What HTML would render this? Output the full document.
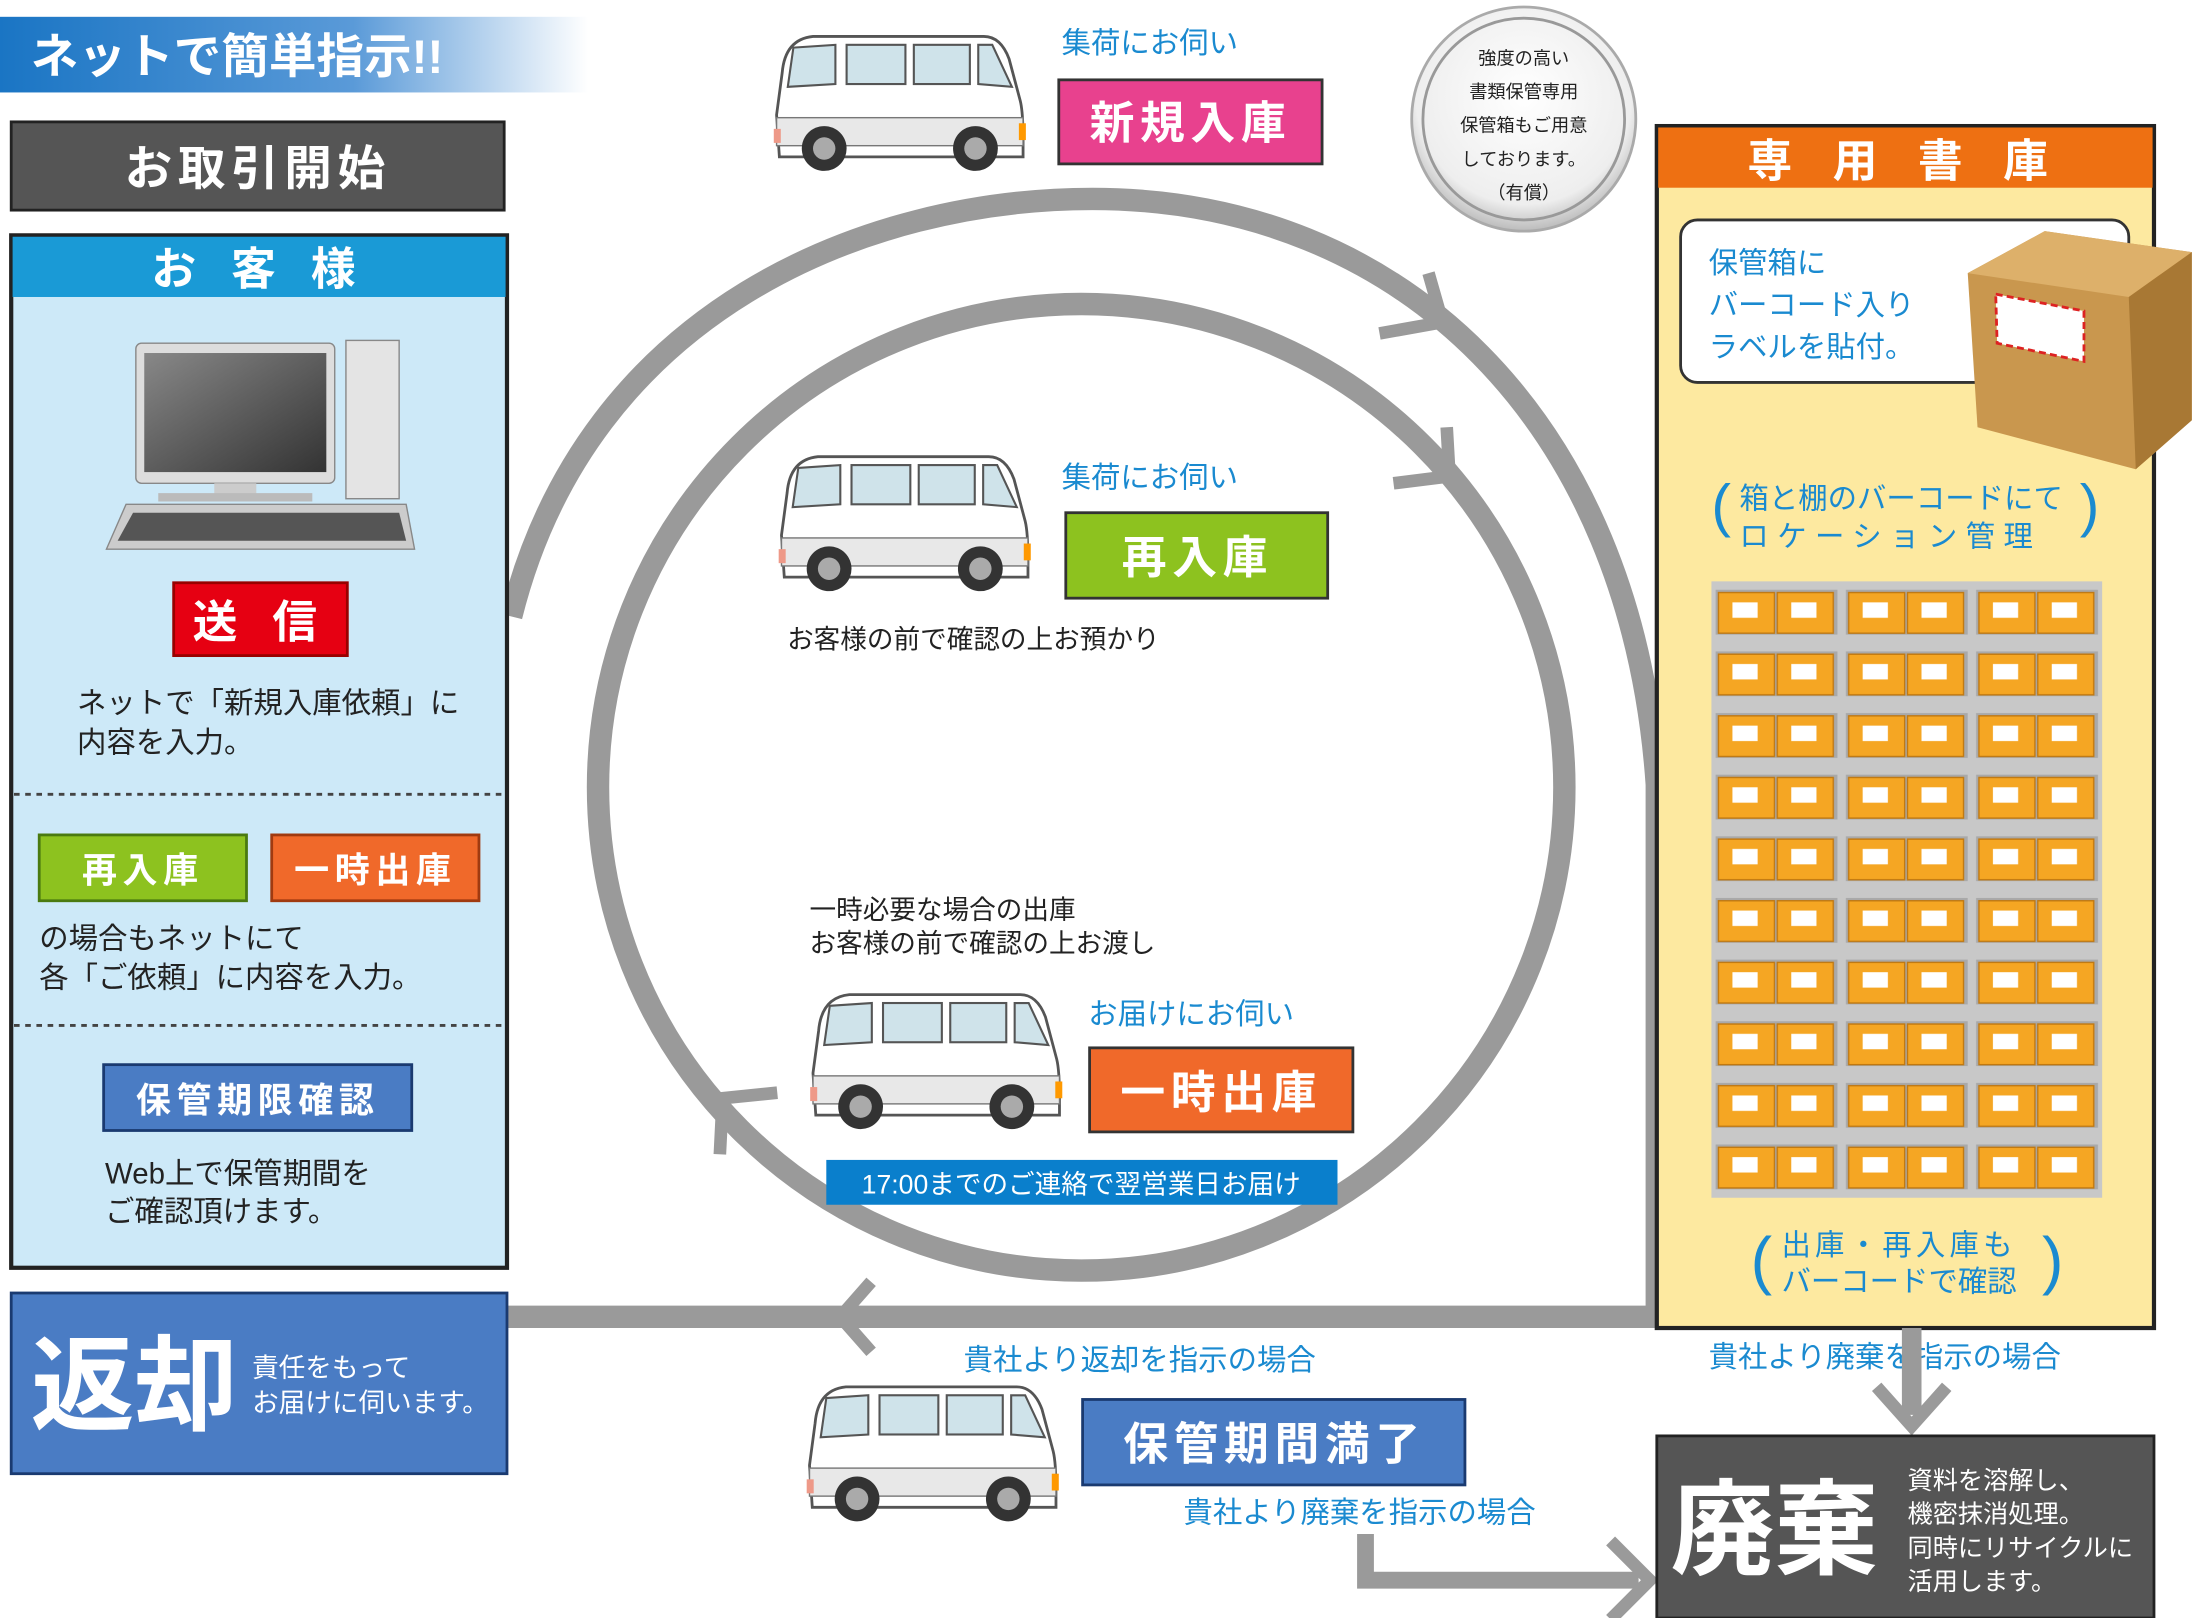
<!DOCTYPE html>
<html><head><meta charset="utf-8"><style>
html,body{margin:0;padding:0;background:#fff;}
svg{display:block;font-family:"Liberation Sans","Noto Sans CJK JP",sans-serif;}
</style></head><body>
<svg width="2196" height="1618" viewBox="0 0 1568 1155" preserveAspectRatio="none" xmlns="http://www.w3.org/2000/svg">
<defs>
<linearGradient id="bn" x1="0" x2="1"><stop offset="0" stop-color="#1a75c4"/><stop offset="0.6" stop-color="#5a9ad8"/><stop offset="1" stop-color="#fff"/></linearGradient>
<radialGradient id="st" cx="0.5" cy="0.4" r="0.6"><stop offset="0" stop-color="#fff"/><stop offset="0.8" stop-color="#eee"/><stop offset="1" stop-color="#bbb"/></radialGradient>
<linearGradient id="scr" x1="0" y1="0" x2="1" y2="1"><stop offset="0" stop-color="#888"/><stop offset="1" stop-color="#333"/></linearGradient>
<symbol id="van" viewBox="0 0 180 104">
<path d="M6 30 Q8 6 28 4 L150 4 Q162 4 168 20 L176 50 Q178 58 178 78 L178 90 L4 90 L2 60 Z" fill="#fff" stroke="#555" stroke-width="2"/>
<path d="M14 12 L44 10 L44 38 L10 40 Z" fill="#cfe3ea" stroke="#555" stroke-width="1.5"/>
<rect x="52" y="10" width="42" height="28" fill="#cfe3ea" stroke="#555" stroke-width="1.5"/>
<rect x="100" y="10" width="40" height="28" fill="#cfe3ea" stroke="#555" stroke-width="1.5"/>
<path d="M146 10 L156 10 L170 40 L146 38 Z" fill="#cfe3ea" stroke="#555" stroke-width="1.5"/>
<rect x="2" y="62" width="176" height="20" fill="#e8e8e8" stroke="#777" stroke-width="1"/>
<rect x="0" y="70" width="5" height="10" fill="#e98"/><rect x="175" y="66" width="5" height="12" fill="#f90"/>
<circle cx="36" cy="84" r="16" fill="#333"/><circle cx="36" cy="84" r="8" fill="#aaa"/>
<circle cx="144" cy="84" r="16" fill="#333"/><circle cx="144" cy="84" r="8" fill="#aaa"/>
</symbol>
<pattern id="shelf" x="1222" y="415" width="93" height="44" patternUnits="userSpaceOnUse">
<rect width="93" height="44" fill="#c8c8c8"/>
<rect x="3" y="6" width="87" height="32" fill="#a9a9a9"/>
<rect x="5" y="8" width="40" height="29" fill="#f5a623" stroke="#c07810"/>
<rect x="47" y="8" width="40" height="29" fill="#f5a623" stroke="#c07810"/>
<rect x="15" y="15" width="18" height="11" fill="#fff"/><rect x="57" y="15" width="18" height="11" fill="#fff"/>
</pattern>
</defs>

<!-- circles -->
<path d="M365 440 C420 220 620 142 780 142 C1000 142 1165 300 1183 560 L1183 940" fill="none" stroke="#9a9a9a" stroke-width="16"/>
<line x1="362" y1="940" x2="1190" y2="940" stroke="#9a9a9a" stroke-width="16"/>
<circle cx="772" cy="562" r="345" fill="none" stroke="#9a9a9a" stroke-width="16"/>
<path d="M985 238 L1030 230 L1020 195" fill="none" stroke="#9a9a9a" stroke-width="9"/>
<path d="M995 345 L1035 340 L1033 305" fill="none" stroke="#9a9a9a" stroke-width="9"/>
<path d="M514 824 L516 784 L555 780" fill="none" stroke="#9a9a9a" stroke-width="9"/>
<path d="M622 915 L600 940 L622 965" fill="none" stroke="#9a9a9a" stroke-width="9"/>

<!-- top banner -->
<rect x="0" y="12" width="420" height="54" fill="url(#bn)"/>
<text x="22" y="52" font-size="34" font-weight="bold" fill="#fff">ネットで簡単指示!!</text>
<rect x="8" y="87" width="352" height="63" fill="#555" stroke="#222" stroke-width="2"/>
<text x="184" y="132" font-size="34" font-weight="bold" fill="#fff" text-anchor="middle" letter-spacing="4">お取引開始</text>

<!-- customer panel -->
<rect x="8" y="168" width="354" height="737" fill="#cde9f8" stroke="#222" stroke-width="3"/>
<rect x="9" y="169" width="352" height="43" fill="#1a9ad6"/>
<text x="185" y="203" font-size="32" font-weight="bold" fill="#fff" text-anchor="middle" letter-spacing="8">お 客 様</text>
<rect x="97" y="245" width="142" height="100" rx="4" fill="#ddd" stroke="#888"/>
<rect x="103" y="252" width="130" height="85" fill="url(#scr)"/>
<rect x="153" y="345" width="30" height="10" fill="#ccc"/>
<rect x="113" y="352" width="110" height="6" fill="#bbb"/>
<rect x="247" y="243" width="38" height="113" fill="#e4e4e4" stroke="#888"/>
<path d="M90 360 L290 360 L296 392 L76 392 Z" fill="#ccc" stroke="#888"/>
<path d="M95 366 L285 366 L290 386 L84 386 Z" fill="#555"/>
<rect x="124" y="416" width="124" height="52" fill="#e60012" stroke="#900" stroke-width="2"/>
<text x="186" y="455" font-size="32" font-weight="bold" fill="#fff" text-anchor="middle" letter-spacing="8">送 信</text>
<text x="55" y="509" font-size="21" fill="#222">ネットで「新規入庫依頼」に</text>
<text x="55" y="537" font-size="21" fill="#222">内容を入力。</text>
<line x1="10" y1="567" x2="360" y2="567" stroke="#444" stroke-width="2" stroke-dasharray="4 4"/>
<rect x="28" y="596" width="148" height="47" fill="#8dc21f" stroke="#4a7a10" stroke-width="2"/>
<text x="102" y="630" font-size="25" font-weight="bold" fill="#fff" text-anchor="middle" letter-spacing="4">再入庫</text>
<rect x="194" y="596" width="148" height="47" fill="#f0692a" stroke="#a03a10" stroke-width="2"/>
<text x="268" y="630" font-size="25" font-weight="bold" fill="#fff" text-anchor="middle" letter-spacing="4">一時出庫</text>
<text x="28" y="677" font-size="21" fill="#222">の場合もネットにて</text>
<text x="28" y="705" font-size="21" fill="#222">各「ご依頼」に内容を入力。</text>
<line x1="10" y1="732" x2="360" y2="732" stroke="#444" stroke-width="2" stroke-dasharray="4 4"/>
<rect x="74" y="760" width="220" height="47" fill="#4a7cc4" stroke="#1a3a70" stroke-width="2"/>
<text x="184" y="794" font-size="25" font-weight="bold" fill="#fff" text-anchor="middle" letter-spacing="4">保管期限確認</text>
<text x="75" y="845" font-size="21" fill="#222">Web上で保管期間を</text>
<text x="75" y="872" font-size="21" fill="#222">ご確認頂けます。</text>

<!-- return -->
<rect x="8" y="923" width="354" height="129" fill="#4a7cc4" stroke="#1a3a70" stroke-width="2"/>
<text x="22" y="1015" font-size="74" font-weight="bold" fill="#fff">返却</text>
<text x="180" y="983" font-size="19" fill="#fff">責任をもって</text>
<text x="180" y="1008" font-size="19" fill="#fff">お届けに伺います。</text>

<!-- vans and labels -->
<use href="#van" x="552" y="22" width="181" height="104"/>
<text x="758" y="38" font-size="21" fill="#1a8ad0">集荷にお伺い</text>
<rect x="756" y="57" width="188" height="60" fill="#e8418e" stroke="#333" stroke-width="2"/>
<text x="850" y="99" font-size="32" font-weight="bold" fill="#fff" text-anchor="middle" letter-spacing="4">新規入庫</text>

<circle cx="1088" cy="85" r="80" fill="url(#st)" stroke="#aaa" stroke-width="2"/>
<circle cx="1088" cy="85" r="72" fill="none" stroke="#999" stroke-width="2"/>
<g font-size="13" fill="#222" text-anchor="middle">
<text x="1088" y="46">強度の高い</text><text x="1088" y="70">書類保管専用</text><text x="1088" y="94">保管箱もご用意</text><text x="1088" y="118">しております。</text><text x="1088" y="142">（有償）</text></g>

<use href="#van" x="555" y="322" width="182" height="104"/>
<text x="758" y="348" font-size="21" fill="#1a8ad0">集荷にお伺い</text>
<rect x="761" y="366" width="187" height="61" fill="#8dc21f" stroke="#333" stroke-width="2"/>
<text x="855" y="409" font-size="32" font-weight="bold" fill="#fff" text-anchor="middle" letter-spacing="4">再入庫</text>
<text x="562" y="463" font-size="19" fill="#222">お客様の前で確認の上お預かり</text>

<text x="578" y="656" font-size="19" fill="#222">一時必要な場合の出庫</text>
<text x="578" y="680" font-size="19" fill="#222">お客様の前で確認の上お渡し</text>
<use href="#van" x="577" y="706" width="183" height="104"/>
<text x="777" y="731" font-size="21" fill="#1a8ad0">お届けにお伺い</text>
<rect x="778" y="748" width="188" height="60" fill="#f0692a" stroke="#333" stroke-width="2"/>
<text x="872" y="791" font-size="32" font-weight="bold" fill="#fff" text-anchor="middle" letter-spacing="4">一時出庫</text>
<rect x="590" y="828" width="365" height="32" fill="#0a7fcc"/>
<text x="772" y="852" font-size="19" fill="#fff" text-anchor="middle">17:00までのご連絡で翌営業日お届け</text>

<text x="688" y="978" font-size="21" fill="#1a8ad0">貴社より返却を指示の場合</text>
<use href="#van" x="575" y="986" width="182" height="104"/>
<rect x="773" y="999" width="273" height="61" fill="#4a7cc4" stroke="#1a3a70" stroke-width="2"/>
<text x="910" y="1042" font-size="32" font-weight="bold" fill="#fff" text-anchor="middle" letter-spacing="4">保管期間満了</text>
<text x="845" y="1087" font-size="21" fill="#1a8ad0">貴社より廃棄を指示の場合</text>
<path d="M975 1095 L975 1128 L1170 1128" fill="none" stroke="#9a9a9a" stroke-width="12"/>
<path d="M1150 1100 L1178 1128 L1150 1156" fill="none" stroke="#9a9a9a" stroke-width="9"/>

<!-- right panel -->
<rect x="1183" y="90" width="355" height="858" fill="#fde9a0" stroke="#222" stroke-width="3"/>
<rect x="1184" y="91" width="353" height="43" fill="#ee7012"/>
<text x="1360" y="126" font-size="32" font-weight="bold" fill="#fff" text-anchor="middle" letter-spacing="10">専 用 書 庫</text>
<rect x="1200" y="157" width="320" height="116" rx="12" fill="#fff" stroke="#333" stroke-width="2"/>
<text x="1220" y="195" font-size="21" fill="#1a8ad0">保管箱に</text>
<text x="1220" y="225" font-size="21" fill="#1a8ad0">バーコード入り</text>
<text x="1220" y="255" font-size="21" fill="#1a8ad0">ラベルを貼付。</text>
<path d="M1405 195 L1460 165 L1565 180 L1565 300 L1525 335 L1412 305 Z" fill="#c9974e"/>
<path d="M1405 195 L1460 165 L1565 180 L1520 212 Z" fill="#ddb06a"/>
<path d="M1520 212 L1565 180 L1565 300 L1525 335 Z" fill="#a87834"/>
<path d="M1425 210 L1488 222 L1488 258 L1426 245 Z" fill="#fff" stroke="#d22" stroke-width="2" stroke-dasharray="5 3"/>
<text x="1222" y="375" font-size="42" fill="#1a8ad0">(</text>
<text x="1485" y="375" font-size="42" fill="#1a8ad0">)</text>
<text x="1242" y="363" font-size="21" fill="#1a8ad0">箱と棚のバーコードにて</text>
<text x="1242" y="390" font-size="21" fill="#1a8ad0" letter-spacing="6">ロケーション管理</text>
<rect x="1222" y="415" width="279" height="440" fill="url(#shelf)"/>
<text x="1250" y="915" font-size="46" fill="#1a8ad0">(</text>
<text x="1458" y="915" font-size="46" fill="#1a8ad0">)</text>
<text x="1272" y="896" font-size="21" fill="#1a8ad0" letter-spacing="3">出庫・再入庫も</text>
<text x="1272" y="922" font-size="21" fill="#1a8ad0">バーコードで確認</text>
<text x="1220" y="976" font-size="21" fill="#1a8ad0">貴社より廃棄を指示の場合</text>
<line x1="1365" y1="948" x2="1365" y2="1010" stroke="#9a9a9a" stroke-width="14"/>
<path d="M1340 990 L1365 1018 L1390 990" fill="none" stroke="#9a9a9a" stroke-width="9"/>

<rect x="1183" y="1025" width="355" height="130" fill="#555" stroke="#222" stroke-width="2"/>
<text x="1193" y="1118" font-size="74" font-weight="bold" fill="#fff">廃棄</text>
<g font-size="18" fill="#fff"><text x="1362" y="1063">資料を溶解し、</text><text x="1362" y="1087">機密抹消処理。</text><text x="1362" y="1111">同時にリサイクルに</text><text x="1362" y="1135">活用します。</text></g>
</svg>
</body></html>
